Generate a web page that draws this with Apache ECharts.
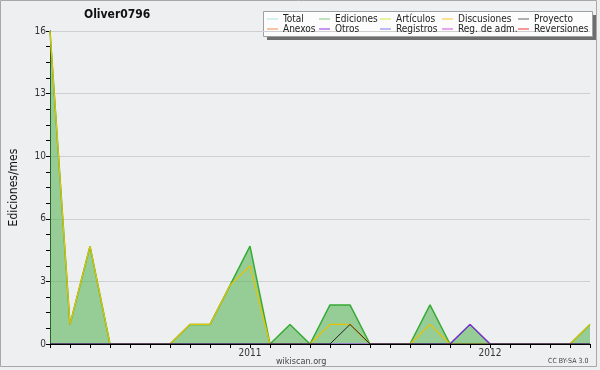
<!DOCTYPE html>
<html>
<head>
<meta charset="utf-8">
<script src="https://cdn.jsdelivr.net/npm/echarts@6/dist/echarts.min.js"></script>
<style>
  html, body { margin: 0; padding: 0; background: #f0f0f0; }
  #chart { width: 600px; height: 370px; }
</style>
</head>
<body>
<div id="chart"></div>
<script>
// meses
const months = ['2010-03', '2010-04', '2010-05', '2010-06', '2010-07', '2010-08', '2010-09', '2010-10',
    '2010-11', '2010-12', '2011-01', '2011-02', '2011-03', '2011-04', '2011-05', '2011-06', '2011-07',
    '2011-08', '2011-09', '2011-10', '2011-11', '2011-12', '2012-01', '2012-02', '2012-03', '2012-04',
    '2012-05', '2012-06'];
// series
const ediciones = [16, 1, 5, 0, 0, 0, 0, 1, 1, 3, 5, 0, 1, 0, 2, 2, 0, 0, 0, 2, 0, 1, 0, 0, 0, 0, 0, 1];
const articulos = [16, 1, 5, 0, 0, 0, 0, 1, 1, 3, 4, 0, 0, 0, 1, 1, 0, 0, 0, 1, 0, 0, 0, 0, 0, 0, 0, 1];
const proyecto = [0, 0, 0, 0, 0, 0, 0, 0, 0, 0, 0, 0, 0, 0, 0, 1, 0, 0, 0, 0, 0, 0, 0, 0, 0, 0, 0, 0];
const otros = [0, 0, 0, 0, 0, 0, 0, 0, 0, 0, 0, 0, 0, 0, 0, 0, 0, 0, 0, 0, 0, 1, 0, 0, 0, 0, 0, 0];
const yTicks = [0, 3, 6, 10, 13, 16];

const font = "'DejaVu Sans Condensed', 'DejaVu Sans', sans-serif";

// leyenda: columnas de dos
const legendCols = [
    [['Total', '#a8e4e4'], ['Anexos', '#f7894a']],
    [['Ediciones', '#7fca7f'], ['Otros', '#9530e8']],
    [['Artículos', '#c8ec3c'], ['Registros', '#7b7bf5']],
    [['Discusiones', '#f9c82a'], ['Reg. de adm.', '#d94ae8']],
    [['Proyecto', '#666666'], ['Reversiones', '#ec3434']]
];
const legendX = [267, 319, 380, 442, 518];

let myChart = echarts.init(document.getElementById('chart'));

let legends = legendCols.map((col, i) => ({
    orient: 'vertical',
    left: legendX[i],
    top: 14,
    itemGap: 0,
    itemWidth: 11,
    itemHeight: 1,
    icon: 'rect',
    padding: 0,
    selectedMode: false,
    textStyle: { fontFamily: font, fontSize: 10, lineHeight: 10, color: '#222' },
    data: col.map(c => ({ name: c[0], itemStyle: { color: c[1] } }))
}));

let series = [];
let allNames = [];
legendCols.forEach(col => col.forEach(c => allNames.push(c[0])));
allNames.forEach(n => {
    let s = { name: n, type: 'line', showSymbol: false, symbol: 'none', data: [] };
    if (n === 'Ediciones') {
        s.data = ediciones;
        s.z = 2;
        s.lineStyle = { color: '#35ab35', width: 1.5 };
        s.itemStyle = { color: '#35ab35' };
        s.areaStyle = { color: 'rgba(78,176,78,0.55)', opacity: 1 };
    } else if (n === 'Artículos') {
        s.data = articulos;
        s.z = 3;
        s.lineStyle = { color: '#e8c200', width: 1.2 };
        s.itemStyle = { color: '#e8c200' };
    } else if (n === 'Proyecto') {
        s.data = proyecto;
        s.z = 4;
        s.lineStyle = { color: '#222', width: 1 };
        s.itemStyle = { color: '#222' };
    } else if (n === 'Otros') {
        s.data = otros;
        s.z = 4;
        s.lineStyle = { color: '#8a20f0', width: 1.2 };
        s.itemStyle = { color: '#8a20f0' };
    }
    series.push(s);
});

let option = {
    backgroundColor: '#eeeff0',
    animation: false,
    title: {
        text: 'Oliver0796',
        left: 84,
        top: 9,
        padding: 0,
        textStyle: { fontFamily: font, fontSize: 12, fontWeight: 'bold', color: '#111' }
    },
    legend: legends,
    grid: { left: 46, right: 10, top: 31, bottom: 26 },
    xAxis: {
        type: 'category',
        data: months,
        boundaryGap: false,
        z: 5,
        axisLine: { lineStyle: { color: '#000', width: 1 } },
        axisTick: { show: true, interval: 0, length: 4, lineStyle: { color: '#000' } },
        axisLabel: {
            interval: 0,
            margin: 4,
            fontFamily: font, fontSize: 10, color: '#333',
            formatter: v => v.slice(5) === '01' ? v.slice(0, 4) : ''
        },
        splitLine: { show: false }
    },
    yAxis: {
        type: 'value',
        min: 0,
        max: 16,
        interval: 3.2,
        name: 'Ediciones/mes',
        nameLocation: 'middle',
        nameGap: 30,
        nameTextStyle: { fontFamily: font, fontSize: 12, color: '#111' },
        axisLine: { show: true, lineStyle: { color: '#000', width: 1 } },
        axisTick: { show: true, length: 4, lineStyle: { color: '#000' } },
        minorTick: { show: true, splitNumber: 4, length: 4, lineStyle: { color: '#000' } },
        axisLabel: {
            margin: 4,
            fontFamily: font, fontSize: 10, color: '#333',
            formatter: v => yTicks[Math.round(v / 3.2)]
        },
        splitLine: { show: true, lineStyle: { color: '#cfcfcf', width: 1 } }
    },
    graphic: [
        { type: 'rect', shape: { x: 0.5, y: 0.5, width: 596, height: 366 }, style: { fill: null, stroke: '#a8a8a8', lineWidth: 1 }, z: 0 },
        { type: 'rect', shape: { x: 267, y: 15, width: 329, height: 25 }, style: { fill: '#6e6e6e' }, z: -1 },
        { type: 'rect', shape: { x: 263.5, y: 11.5, width: 329, height: 25 }, style: { fill: '#fcfcfc', stroke: '#a0a0a0', lineWidth: 1 }, z: -1 },
        { type: 'text', left: 276, top: 357, style: { text: 'wikiscan.org', font: "9px 'DejaVu Sans Condensed', 'DejaVu Sans'", fill: '#444' } },
        { type: 'text', left: 548, top: 358, style: { text: 'CC BY-SA 3.0', font: "7px 'DejaVu Sans Condensed', 'DejaVu Sans'", fill: '#444' } }
    ],
    series: series
};

myChart.setOption(option);
</script>
</body>
</html>
